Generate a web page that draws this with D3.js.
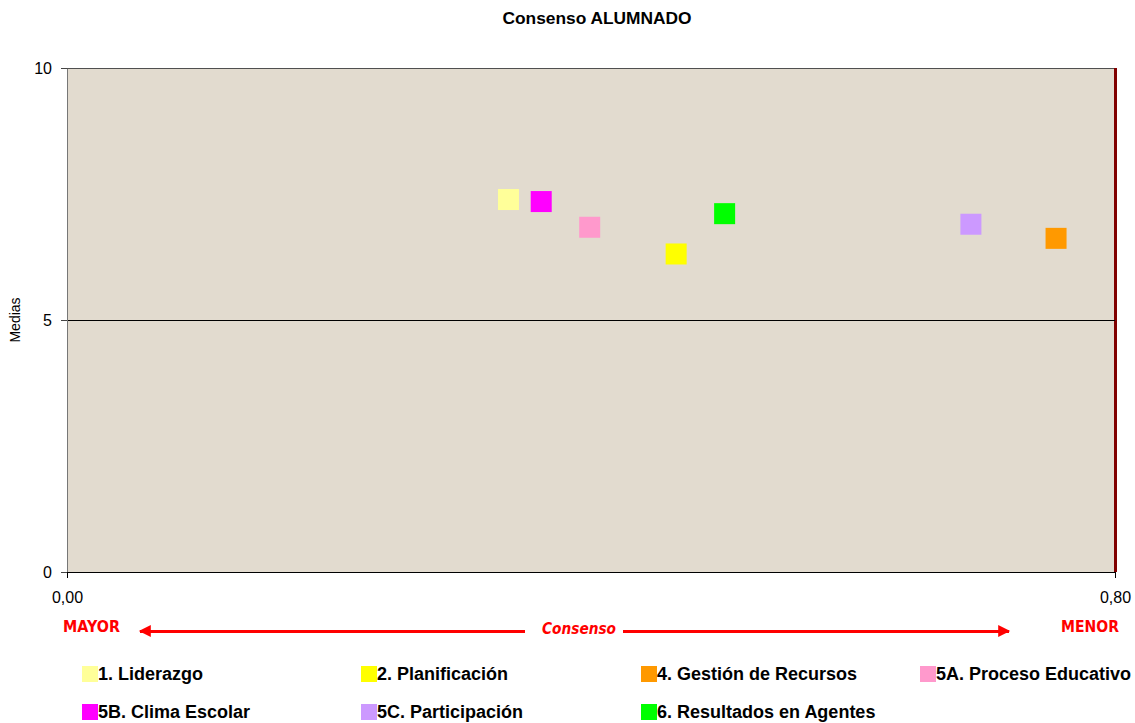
<!DOCTYPE html>
<html>
<head>
<meta charset="utf-8">
<script src="https://cdn.jsdelivr.net/npm/d3@7"></script>
<style>
  body { margin: 0; background: #fff; }
  svg { display: block; }
  line, path.domain { shape-rendering: crispEdges; }
</style>
</head>
<body>
<svg id="chart" width="1135" height="723"></svg>
<script>
// ---- data ----
const categories = ["1. Liderazgo", "2. Planificación", "4. Gestión de Recursos", "5A. Proceso Educativo",
                    "5B. Clima Escolar", "5C. Participación", "6. Resultados en Agentes"];
const consenso = [0.337, 0.465, 0.755, 0.399, 0.362, 0.690, 0.502];
const medias   = [7.39, 6.31, 6.62, 6.84, 7.35, 6.90, 7.11];
const colors   = ["#ffff99", "#ffff00", "#ff9900", "#ff99cc", "#ff00ff", "#cc99ff", "#00ff00"];
const xTicks = [0, 0.8];
const xTickLabels = ["0,00", "0,80"];
const yTicks = [0, 5, 10];

// ---- layout ----
const svg = d3.select("#chart");
const pL = 67, pR = 1115, pT = 68, pB = 572;
const x = d3.scaleLinear().domain([0, 0.8]).range([pL, pR]);
const y = d3.scaleLinear().domain([0, 10]).range([pB, pT]);

// plot background
svg.append("rect").attr("x", pL).attr("y", pT)
  .attr("width", pR - pL).attr("height", pB - pT)
  .attr("fill", "#e2dbcf");

// top border
svg.append("line").attr("x1", pL).attr("x2", pR).attr("y1", pT).attr("y2", pT)
  .attr("stroke", "#505050").attr("stroke-width", 1);
// right border (dark red)
svg.append("line").attr("x1", pR).attr("x2", pR).attr("y1", pT).attr("y2", pB)
  .attr("stroke", "#800000").attr("stroke-width", 3);

// horizontal line at 5
svg.append("line").attr("x1", pL).attr("x2", pR).attr("y1", y(5)).attr("y2", y(5))
  .attr("stroke", "#000").attr("stroke-width", 1);

// y axis
const yAxis = svg.append("g").attr("transform", `translate(${pL},0)`)
  .call(d3.axisLeft(y).tickValues(yTicks).tickFormat(d3.format("d")).tickSize(6).tickPadding(9).tickSizeOuter(0));
yAxis.select(".domain").attr("stroke", "#777");
yAxis.selectAll(".tick line").attr("stroke", "#444");
yAxis.selectAll("text").attr("font-family", "Arial, 'Liberation Sans', sans-serif")
  .attr("font-size", 16).attr("fill", "#000");

// x axis
const xAxis = svg.append("g").attr("transform", `translate(0,${pB})`)
  .call(d3.axisBottom(x).tickValues(xTicks).tickFormat((d, i) => xTickLabels[i]).tickSize(6).tickPadding(14).tickSizeOuter(0));
xAxis.select(".domain").attr("stroke", "#000");
xAxis.selectAll(".tick line").attr("stroke", "#000");
xAxis.selectAll("text").attr("font-family", "Arial, 'Liberation Sans', sans-serif")
  .attr("font-size", 16).attr("fill", "#000");

// markers
const ms = 21;
svg.append("g").selectAll("rect").data(categories).join("rect")
  .attr("x", (d, i) => x(consenso[i]) - ms / 2)
  .attr("y", (d, i) => y(medias[i]) - ms / 2)
  .attr("width", ms).attr("height", ms)
  .attr("fill", (d, i) => colors[i]);

// title
svg.append("text").attr("x", 597).attr("y", 24).attr("text-anchor", "middle")
  .attr("font-family", "Arial, 'Liberation Sans', sans-serif").attr("font-weight", "bold")
  .attr("font-size", 16).attr("textLength", 189).attr("lengthAdjust", "spacingAndGlyphs")
  .text("Consenso ALUMNADO");

// y label
svg.append("text").attr("transform", "translate(20,320) rotate(-90)").attr("text-anchor", "middle")
  .attr("font-family", "Arial, 'Liberation Sans', sans-serif").attr("font-size", 14)
  .text("Medias");

// consensus arrows
const red = "#ff0000";
const defs = svg.append("defs");
defs.append("marker").attr("id", "ah").attr("viewBox", "0 0 10 10")
  .attr("refX", 9).attr("refY", 5).attr("markerWidth", 5).attr("markerHeight", 4)
  .attr("markerUnits", "strokeWidth").attr("orient", "auto")
  .append("path").attr("d", "M0,0 L10,5 L0,10 Z").attr("fill", red);
svg.append("line").attr("x1", 525).attr("x2", 140).attr("y1", 631).attr("y2", 631)
  .attr("stroke", red).attr("stroke-width", 3).attr("marker-end", "url(#ah)");
svg.append("line").attr("x1", 623).attr("x2", 1009).attr("y1", 631).attr("y2", 631)
  .attr("stroke", red).attr("stroke-width", 3).attr("marker-end", "url(#ah)");

const redFont = "'Comic Sans MS', 'DejaVu Sans', sans-serif";
svg.append("text").attr("x", 63).attr("y", 632).attr("fill", red)
  .attr("font-family", redFont).attr("font-weight", "bold").attr("font-size", 15)
  .attr("textLength", 57).attr("lengthAdjust", "spacingAndGlyphs").text("MAYOR");
svg.append("text").attr("x", 1061).attr("y", 632).attr("fill", red)
  .attr("font-family", redFont).attr("font-weight", "bold").attr("font-size", 15)
  .attr("textLength", 58).attr("lengthAdjust", "spacingAndGlyphs").text("MENOR");
svg.append("text").attr("x", 542).attr("y", 634).attr("fill", red)
  .attr("font-family", redFont).attr("font-weight", "bold").attr("font-style", "italic").attr("font-size", 16)
  .attr("textLength", 74).attr("lengthAdjust", "spacingAndGlyphs").text("Consenso");

// legend
const colX = [82, 361, 641, 920];
const rowY = [666, 704];
const lg = svg.append("g").selectAll("g").data(categories).join("g")
  .attr("transform", (d, i) => `translate(${colX[i % 4]},${rowY[Math.floor(i / 4)]})`);
lg.append("rect").attr("width", 16).attr("height", 16).attr("fill", (d, i) => colors[i]);
lg.append("text").attr("x", 16).attr("y", 14)
  .attr("font-family", "Arial, 'Liberation Sans', sans-serif").attr("font-weight", "bold")
  .attr("font-size", 18).text(d => d);
</script>
</body>
</html>
